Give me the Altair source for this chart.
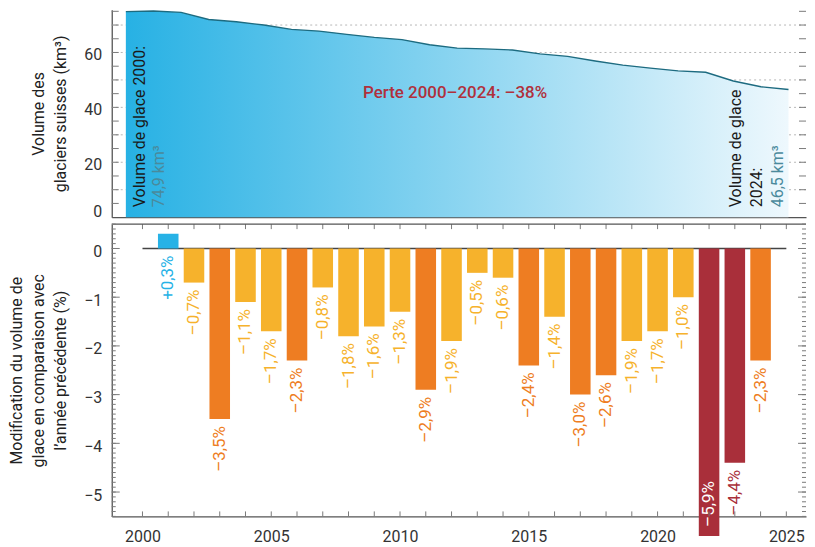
import altair as alt
import pandas as pd

# ---------------- data ----------------
vol_years = list(range(2000, 2025))
volume = [74.9, 75.1, 74.6, 72.0, 71.2, 70.0, 68.4, 67.8, 66.6, 65.5, 64.7, 62.8,
          61.6, 61.3, 60.9, 59.5, 58.6, 56.9, 55.4, 54.3, 53.3, 52.8, 49.6, 47.5, 46.5]
chg_years = list(range(2001, 2025))
change = [0.3, -0.7, -3.5, -1.1, -1.7, -2.3, -0.8, -1.8, -1.6, -1.3, -2.9, -1.9,
          -0.5, -0.6, -2.4, -1.4, -3.0, -2.6, -1.9, -1.7, -1.0, -5.9, -4.4, -2.3]
year_labels = [2000, 2005, 2010, 2015, 2020, 2025]
all_years = list(range(2000, 2026))
vol_labels = [0, 20, 40, 60]
vol_ticks = list(range(5, 76, 5))
vol_grid = [10, 20, 30, 40, 50, 60, 70]
chg_labels = [-5, -4, -3, -2, -1, 0]
chg_minor = [round(i / 10, 1) for i in range(-55, 6)]

cats = ["pos", "light", "mid", "strong"]
bar_range = ["#27b2e6", "#f6b22c", "#ee7d22", "#a92f3a"]
lab_range = ["#27b2e6", "#6a6a6a", "#ee7d22", "#a92f3a"]

FONT = "Roboto"
W, H1, H2 = 696, 208, 293
XDOM = [1999.0, 2025.57]
Y1DOM = [0, 75.6]
Y2DOM = [-5.5, 0.5]
DOM = "#555555"
TICK = "#7a7a7a"

# ---------------- tables ----------------
n = len(volume)
df_v = pd.DataFrame({
    "year": vol_years,
    "vol": volume,
    # volume measurements are spread evenly over the time axis as in the original
    "x": [1999.54 + i * 25.36 / (n - 1) for i in range(n)],
})


def cat_of(v):
    if v > 0:
        return "pos"
    if v > -2:
        return "light"
    if v > -4:
        return "mid"
    return "strong"


def fmt(v):
    s = f"{abs(v):.1f}".replace(".", ",")
    return ("+" if v > 0 else "\u2013") + s + "%"


df_c = pd.DataFrame({"year": chg_years, "change": change})
df_c["cat"] = [cat_of(v) for v in change]
df_c["label"] = [fmt(v) for v in change]
df_c["ly"] = [min(v, 0) for v in change]
df_c["zero"] = 0.0

one = pd.DataFrame({"a": [0]})

sx = alt.Scale(domain=XDOM, nice=False, zero=False)
sy1 = alt.Scale(domain=Y1DOM, nice=False, zero=False)
sy2 = alt.Scale(domain=Y2DOM, nice=False, zero=False)

ax_x1 = alt.Axis(labels=False, ticks=False, grid=False, title=None,
                 domainColor=DOM, domainWidth=1.3, minExtent=0, maxExtent=0)
ax_y1 = alt.Axis(values=vol_labels, format="d", ticks=False, grid=False,
                 title=["Volume des", "glaciers suisses (km\u00b3)"],
                 labelFlush=True, labelOffset=2,
                 labelPadding=10, titlePadding=15, domainColor=DOM, domainWidth=1.3)
ax_x2 = alt.Axis(values=year_labels, format="d", ticks=False, grid=False, title=None,
                 labelPadding=12, labelFlush=False, domainColor=DOM, domainWidth=1.3)
ax_y2 = alt.Axis(values=chg_labels, format="d", ticks=False, grid=False,
                 title=["Modification du volume de", "glace en comparaison avec",
                        "l\u2019ann\u00e9e pr\u00e9c\u00e9dente (%)"],
                 labelFlush=False, labelOffset=3,
                 labelPadding=10, titlePadding=15, domainColor=DOM, domainWidth=1.3)


def X1(f):
    return alt.X(f, type="quantitative", scale=sx, axis=ax_x1)


def Y1(f):
    return alt.Y(f, type="quantitative", scale=sy1, axis=ax_y1)


def X2(f):
    return alt.X(f, type="quantitative", scale=sx, axis=ax_x2)


def Y2(f):
    return alt.Y(f, type="quantitative", scale=sy2, axis=ax_y2)


# ---------------- top panel ----------------
grid = alt.Chart(pd.DataFrame({"g": vol_grid})).mark_rule(
    color="#b8b8b8", strokeDash=[2, 3], strokeWidth=1
).encode(y=Y1("g"))

grad = alt.Gradient(
    gradient="linear",
    stops=[alt.GradientStop(color="#27b1e4", offset=0),
           alt.GradientStop(color="#eef8fd", offset=1)],
    x1=0, x2=1, y1=0, y2=0,
)
area = alt.Chart(df_v).mark_area(color=grad).encode(x=X1("x"), y=Y1("vol"))
line = alt.Chart(df_v).mark_line(color="#1d6b80", strokeWidth=1.4).encode(x=X1("x"), y=Y1("vol"))

df_t1 = pd.DataFrame({"t": vol_ticks})
lt1 = alt.Chart(df_t1).mark_rule(color=TICK).encode(y=Y1("t"), x=alt.value(0), x2=alt.value(7))
rt1 = alt.Chart(df_t1).mark_rule(color=TICK).encode(y=Y1("t"), x=alt.value(W - 7), x2=alt.value(W))


def rtext(txt, xv, yv, color, size=16, align="left", angle=270, weight="normal"):
    return alt.Chart(one).mark_text(
        text=txt, angle=angle, align=align, baseline="middle", font=FONT,
        fontSize=size, color=color, fontWeight=weight
    ).encode(x=alt.datum(xv), y=alt.datum(yv))


t_a = rtext("Volume de glace 2000:", 2000.07, 3.6, "#1a1a1a")
t_b = rtext("74,9 km\u00b3", 2000.8, 3.6, "#4a8a9c")
t_c = rtext("Volume de glace", 2022.9, 3.6, "#1a1a1a")
t_d = rtext("2024:", 2023.7, 3.6, "#1a1a1a")
t_e = rtext("46,5 km\u00b3", 2024.5, 3.6, "#4a8a9c")
t_f = rtext("Perte 2000\u20132024: \u201338%", 2012.14, 45.1, "#b0303c",
            size=17, align="center", angle=0, weight=500)

top = alt.layer(grid, area, line, lt1, rt1, t_a, t_b, t_c, t_d, t_e, t_f).properties(
    width=W, height=H1)

# ---------------- bottom panel ----------------
zero_df = pd.DataFrame({"x0": [2000], "x1": [2025], "y": [0]})
zero = alt.Chart(zero_df).mark_rule(color="#444444", strokeWidth=1.4).encode(
    x=X2("x0"), x2=alt.X2("x1"), y=Y2("y"))

bars = alt.Chart(df_c).mark_bar(size=20.6, orient="vertical").encode(
    x=X2("year"), y=Y2("change"), y2=alt.Y2("zero"),
    color=alt.Color("cat:N", scale=alt.Scale(domain=cats, range=bar_range), legend=None),
)

labels_out = alt.Chart(df_c).transform_filter("datum.change >= -5.5").mark_text(
    angle=270, align="right", baseline="middle", dx=-7, font=FONT, fontSize=17
).encode(
    x=X2("year"), y=Y2("ly"), text="label:N",
    color=alt.Color("cat:N", scale=alt.Scale(domain=cats, range=lab_range), legend=None),
)
labels_in = alt.Chart(df_c).transform_filter("datum.change < -5.5").mark_text(
    angle=270, align="left", baseline="middle", dx=9, font=FONT, fontSize=17, color="white"
).encode(x=X2("year"), y=Y2("ly"), text="label:N")

df_yr = pd.DataFrame({"yr": all_years})
top_ticks = alt.Chart(df_yr).mark_rule(color=TICK).encode(
    x=X2("yr"), y=alt.value(0), y2=alt.value(5))
bot_ticks = alt.Chart(df_yr).mark_rule(color=TICK).encode(
    x=X2("yr"), y=alt.value(H2 - 5), y2=alt.value(H2))
border = alt.Chart(one).mark_rule(color=DOM, strokeWidth=1.3).encode(
    x=alt.value(0), x2=alt.value(W), y=alt.value(0))

df_m = pd.DataFrame({"t": chg_minor})
df_M = pd.DataFrame({"t": chg_labels})
lt2 = alt.Chart(df_m).mark_rule(color=TICK).encode(y=Y2("t"), x=alt.value(0), x2=alt.value(4))
lT2 = alt.Chart(df_M).mark_rule(color=TICK).encode(y=Y2("t"), x=alt.value(0), x2=alt.value(8))
rt2 = alt.Chart(df_m).mark_rule(color=TICK).encode(y=Y2("t"), x=alt.value(W - 4), x2=alt.value(W))
rT2 = alt.Chart(df_M).mark_rule(color=TICK).encode(y=Y2("t"), x=alt.value(W - 8), x2=alt.value(W))

bottom = alt.layer(zero, bars, labels_out, labels_in, top_ticks, bot_ticks, border,
                   lt2, lT2, rt2, rT2).properties(width=W, height=H2)

chart = alt.vconcat(top, bottom, spacing=4).properties(
    padding={"left": 0, "top": -1, "right": 0, "bottom": 0}
).configure_view(stroke=None).configure_axis(
    labelFont=FONT, labelFontSize=16, labelColor="#333333",
    titleFont=FONT, titleFontSize=16, titleFontWeight="normal", titleColor="#222222",
    titleLineHeight=22,
)

chart.save("out.html", embed_options={"renderer": "svg", "actions": False})
